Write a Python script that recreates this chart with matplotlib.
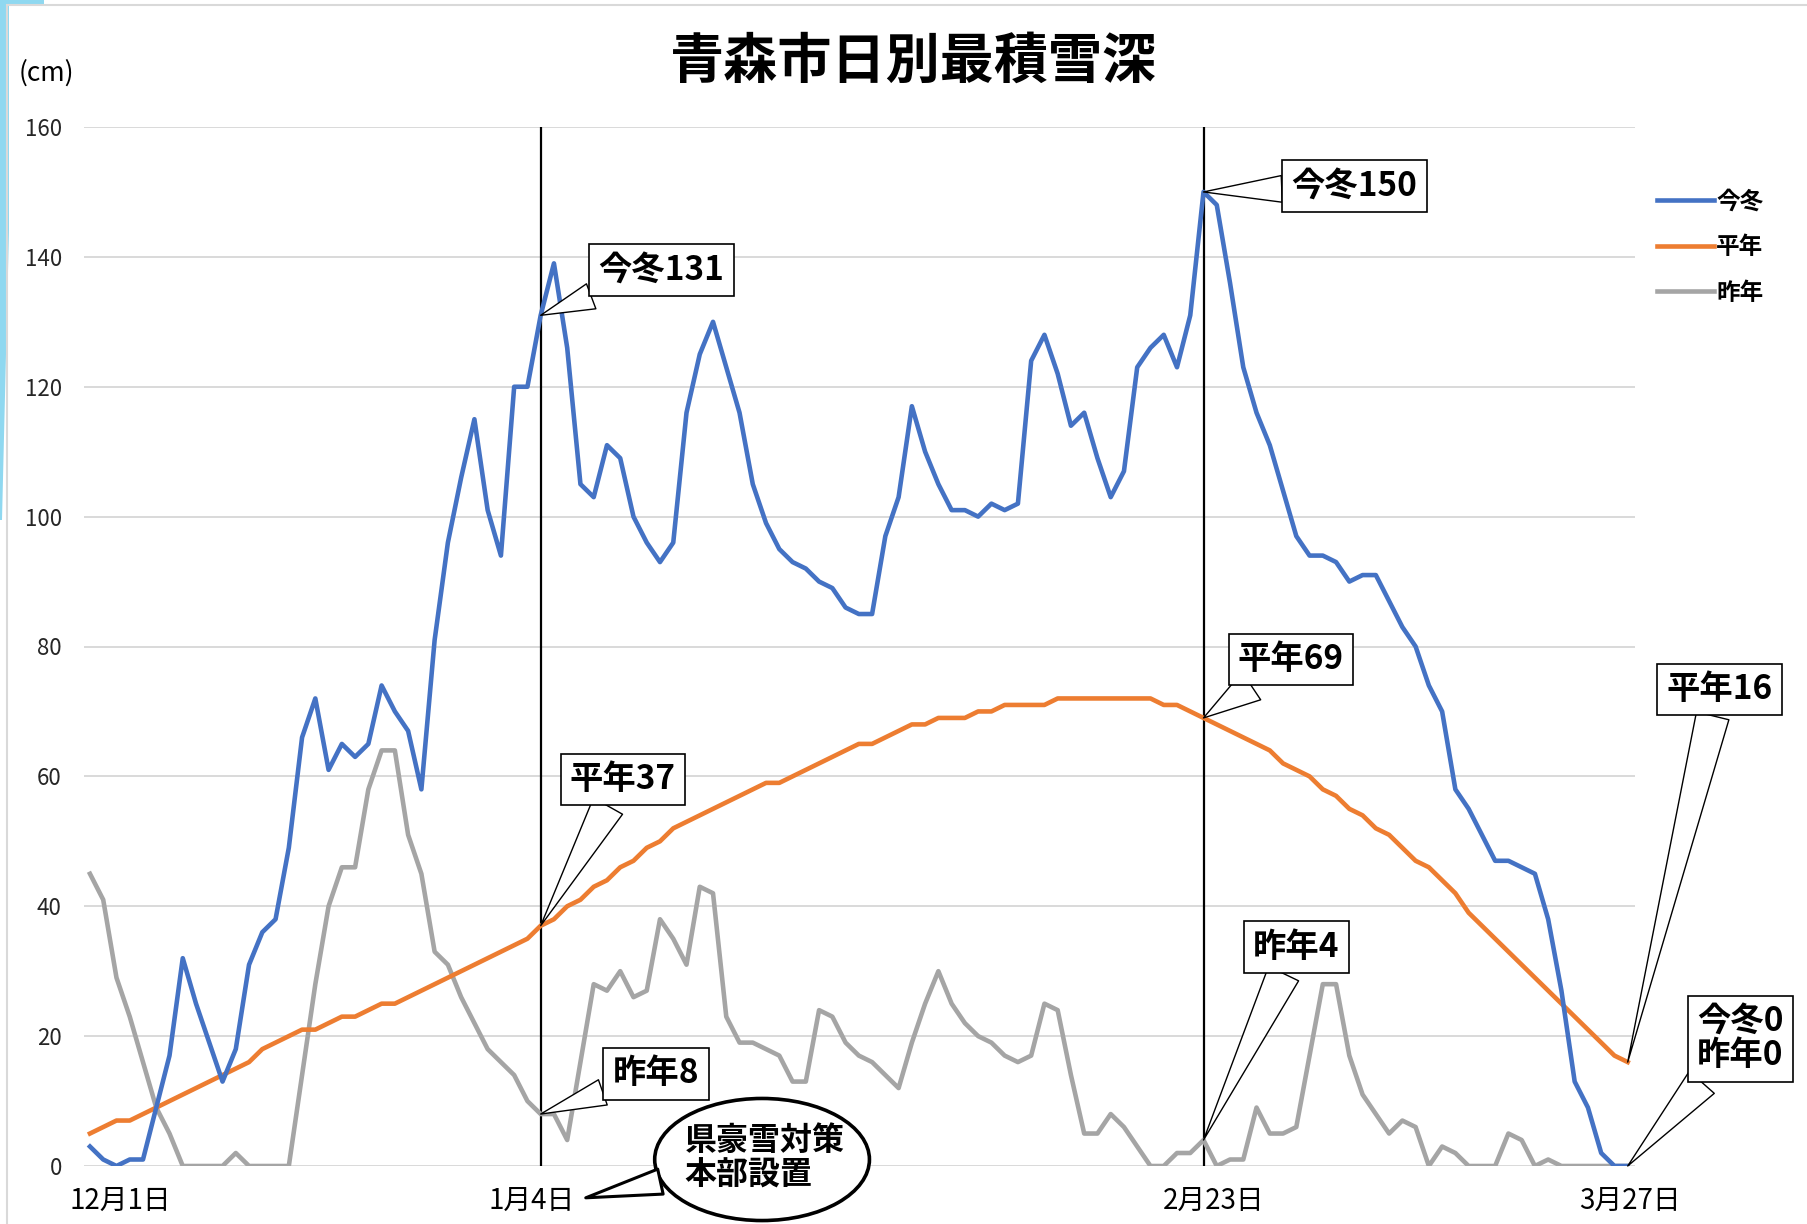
import matplotlib
matplotlib.use("Agg")
import matplotlib.pyplot as plt
from matplotlib.patches import Rectangle, Polygon, Ellipse
from matplotlib.transforms import ScaledTranslation
from matplotlib.font_manager import FontProperties

plt.rcParams['font.family'] = ['Noto Sans CJK JP', 'DejaVu Sans']

# ---------------- data ----------------
# daily index 0 = 12月1日 ... 116 = 3月27日
kontou = [3, 1, 0, 1, 1, 9, 17, 32, 25, 19, 13, 18, 31, 36, 38, 49, 66, 72, 61, 65,
          63, 65, 74, 70, 67, 58, 81, 96, 106, 115, 101, 94, 120, 120, 131, 139, 126, 105, 103, 111,
          109, 100, 96, 93, 96, 116, 125, 130, 123, 116, 105, 99, 95, 93, 92, 90, 89, 86, 85, 85,
          97, 103, 117, 110, 105, 101, 101, 100, 102, 101, 102, 124, 128, 122, 114, 116, 109, 103, 107, 123,
          126, 128, 123, 131, 150, 148, 136, 123, 116, 111, 104, 97, 94, 94, 93, 90, 91, 91, 87, 83,
          80, 74, 70, 58, 55, 51, 47, 47, 46, 45, 38, 27, 13, 9, 2, 0, 0]
heinen = [5, 6, 7, 7, 8, 9, 10, 11, 12, 13, 14, 15, 16, 18, 19, 20, 21, 21, 22, 23,
          23, 24, 25, 25, 26, 27, 28, 29, 30, 31, 32, 33, 34, 35, 37, 38, 40, 41, 43, 44,
          46, 47, 49, 50, 52, 53, 54, 55, 56, 57, 58, 59, 59, 60, 61, 62, 63, 64, 65, 65,
          66, 67, 68, 68, 69, 69, 69, 70, 70, 71, 71, 71, 71, 72, 72, 72, 72, 72, 72, 72,
          72, 71, 71, 70, 69, 68, 67, 66, 65, 64, 62, 61, 60, 58, 57, 55, 54, 52, 51, 49,
          47, 46, 44, 42, 39, 37, 35, 33, 31, 29, 27, 25, 23, 21, 19, 17, 16]
sakunen = [45, 41, 29, 23, 16, 9, 5, 0, 0, 0, 0, 2, 0, 0, 0, 0, 14, 28, 40, 46,
           46, 58, 64, 64, 51, 45, 33, 31, 26, 22, 18, 16, 14, 10, 8, 8, 4, 16, 28, 27,
           30, 26, 27, 38, 35, 31, 43, 42, 23, 19, 19, 18, 17, 13, 13, 24, 23, 19, 17, 16,
           14, 12, 19, 25, 30, 25, 22, 20, 19, 17, 16, 17, 25, 24, 14, 5, 5, 8, 6, 3,
           0, 0, 2, 2, 4, 0, 1, 1, 9, 5, 5, 6, 17, 28, 28, 17, 11, 8, 5, 7,
           6, 0, 3, 2, 0, 0, 0, 5, 4, 0, 1, 0, 0, 0, 0, 0, 0]
series_names = ['今冬', '平年', '昨年']
tick_days = [0, 34, 84, 116]
tick_labels = ['12月1日', '1月4日', '2月23日', '3月27日']
marker_days = [34, 84]
yticks = list(range(0, 161, 20))
title = '青森市日別最積雪深'
event_text = '県豪雪対策\n本部設置'

days = list(range(len(kontou)))

# ---------------- figure ----------------
W, H = 1808, 1224
fig = plt.figure(figsize=(W / 100, H / 100), dpi=100)

def fx(x):
    return x / W

def fy(y):
    return 1 - y / H

# slide decoration + chart border
fig.patches.append(Polygon([(fx(0), fy(0)), (fx(44), fy(0)), (fx(44), fy(5)), (fx(9), fy(5)),
                            (fx(9), fy(230)), (fx(2), fy(520)), (fx(0), fy(520))],
                           closed=True, transform=fig.transFigure, facecolor='#8FD8F0',
                           edgecolor='none', zorder=0))
fig.patches.append(Rectangle((fx(7), fy(1230)), 1.0, fy(5) - fy(1230), transform=fig.transFigure,
                             facecolor='none', edgecolor='#D9D9D9', lw=1.5, zorder=0))

ax = fig.add_axes([fx(84), fy(1166), fx(1635) - fx(84), fy(127) - fy(1166)])
ax.set_xlim(-0.45, 116.55)
ax.set_ylim(0, 160)

colors = ['#4472C4', '#ED7D31', '#A5A5A5']
for d in marker_days:
    ax.plot([d, d], [0, 160], color='black', lw=1.6, zorder=2)
ln_s, = ax.plot(days, sakunen, color=colors[2], lw=3.3, zorder=3, solid_joinstyle='round')
ln_h, = ax.plot(days, heinen, color=colors[1], lw=3.3, zorder=4, solid_joinstyle='round')
ln_k, = ax.plot(days, kontou, color=colors[0], lw=3.3, zorder=5, solid_joinstyle='round')

ax.set_yticks(yticks)
ax.yaxis.grid(True, color='#D9D9D9', lw=1.4)
ax.set_axisbelow(True)
for s in ax.spines.values():
    s.set_visible(False)
ax.tick_params(axis='y', length=0, pad=16, labelsize=16, labelcolor='#262626')
ax.set_xticks(tick_days)
ax.set_xticklabels(tick_labels)
ax.tick_params(axis='x', length=0, pad=14, labelsize=20, labelcolor='black')
for lbl, dx in zip(ax.get_xticklabels(), [0.3, -0.09, 0.1, 0.02]):
    lbl.set_transform(lbl.get_transform() + ScaledTranslation(dx, 0, fig.dpi_scale_trans))

# titles
fig.text(fx(914), fy(62), title, ha='center', va='center', fontsize=39, fontweight='bold')
fig.text(fx(46), fy(73), '(cm)', ha='center', va='center', fontsize=19)

# legend
fig.legend([ln_k, ln_h, ln_s], series_names, loc='upper left',
           bbox_to_anchor=(fx(1636), fy(168)), frameon=False, handlelength=2.4,
           handletextpad=0.1, labelspacing=0.92,
           prop=FontProperties(family='Noto Sans CJK JP', size=17, weight='bold'))

# callouts
def callout(text, xy, xytext, tw=1.0):
    ax.annotate(text, xy=xy, xytext=xytext, textcoords='data', ha='center', va='center',
                fontsize=24, fontweight='bold', annotation_clip=False, zorder=10,
                linespacing=1.05,
                bbox=dict(boxstyle='square,pad=0.28', fc='white', ec='black', lw=1.2),
                arrowprops=dict(arrowstyle=f'wedge,tail_width={tw},shrink_factor=0.5',
                                fc='white', ec='black', lw=1.0, shrinkA=0, shrinkB=0))

callout(f'今冬{kontou[34]}', (34, kontou[34]), (43.1, 138.0), 0.8)
callout(f'今冬{kontou[84]}', (84, kontou[84]), (95.4, 150.9), 0.8)
callout(f'平年{heinen[34]}', (34, heinen[34]), (40.2, 59.5), 1.0)
callout(f'昨年{sakunen[34]}', (34, sakunen[34]), (42.7, 14.2), 0.8)
callout(f'平年{heinen[84]}', (84, heinen[84]), (90.6, 78.0), 1.0)
callout(f'昨年{sakunen[84]}', (84, sakunen[84]), (91.0, 33.7), 1.0)
callout(f'平年{heinen[116]}', (116, heinen[116]), (122.9, 73.4), 1.0)
callout(f'今冬{kontou[116]}\n昨年{sakunen[116]}', (116, kontou[116]), (124.5, 19.6), 1.0)

# speech-bubble ellipse pointing at the 1月4日 label
ell = Ellipse((50.7, 1.0), width=16.2, height=18.8, facecolor='white', edgecolor='black',
              lw=2.6, zorder=11, clip_on=False)
ax.add_patch(ell)
ax.annotate('', xy=(37.4, -4.9), xytext=(50.7, 1.0), textcoords='data',
            annotation_clip=False, zorder=12,
            arrowprops=dict(arrowstyle='wedge,tail_width=0.8,shrink_factor=0.5',
                            fc='white', ec='black', lw=2.2, shrinkA=0, shrinkB=0,
                            patchA=ell, mutation_scale=23))
ax.text(50.9, 1.2, event_text, ha='center', va='center', fontsize=23, fontweight='bold',
        linespacing=1.1, multialignment='left', zorder=13, clip_on=False)

fig.savefig('out.png', dpi=100)
